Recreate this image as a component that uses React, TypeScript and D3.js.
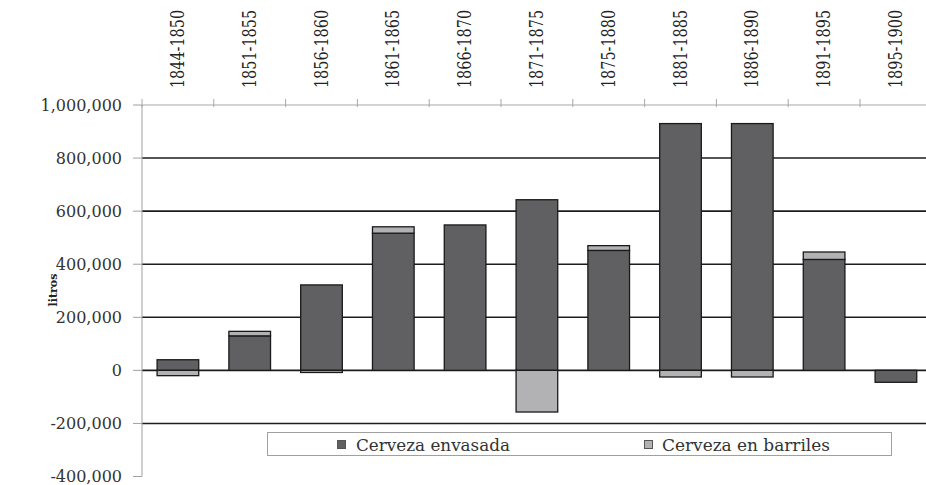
import React from "react";
import * as d3 from "d3";

const categories = ["1844-1850","1851-1855","1856-1860","1861-1865","1866-1870","1871-1875","1875-1880","1881-1885","1886-1890","1891-1895","1895-1900"];
const envasada = [40000, 130000, 322000, 517000, 548000, 643000, 452000, 930000, 930000, 418000, -45000];
const barriles = [-20000, 17000, -8000, 24000, 0, -157000, 18000, -25000, -25000, 28000, 0];
const seriesNames = ["Cerveza envasada", "Cerveza en barriles"];
const yTicks = [1000000, 800000, 600000, 400000, 200000, 0, -200000, -400000];
const gridValues = [800000, 600000, 400000, 200000, 0, -200000];

const W = 926, H = 485;
const colors = ["#606062", "#b2b2b4"];

export default function App() {
  const step = 71.8;
  const x = d3.scaleBand<string>().domain(categories).range([142, 142 + step * categories.length]).paddingInner(0.42).paddingOuter(0.21);
  const y = d3.scaleLinear().domain([-400000, 1000000]).range([476.5, 105]);
  const rows = categories.map((c, i) => ({ cat: c, a: envasada[i], b: barriles[i] }));
  const stacked = d3.stack<any>().keys(["a", "b"]).offset(d3.stackOffsetDiverging)(rows);
  const fmt = (v: number) => d3.format(",")(v).replace("\u2212", "-");
  const serif = "'DejaVu Serif', 'Liberation Serif', serif";
  const boundaries = d3.range(categories.length + 1).map(i => 142 + i * x.step());

  return (
    <svg width={W} height={H} style={{ position: "absolute", left: 0, top: 0, background: "#fff", fontFamily: serif }}>
      {/* category labels on top */}
      {categories.map(c => (
        <text key={c} transform={`translate(${(x(c) as number) + x.bandwidth() / 2},49) rotate(-90) scale(0.8,1)`} textAnchor="middle" dominantBaseline="central" fontSize={18} fill="#222" style={{ fontFamily: serif }}>{c}</text>
      ))}
      {/* top line with ticks */}
      <line x1={142} x2={W} y1={y(1000000)} y2={y(1000000)} stroke="#a8a8a8" strokeWidth={1} />
      {boundaries.map((bx, i) => (
        <line key={i} x1={bx} x2={bx} y1={y(1000000) - 6} y2={y(1000000) + 2} stroke="#a8a8a8" strokeWidth={1} />
      ))}
      {/* gridlines */}
      {gridValues.map(v => (
        <line key={v} x1={142} x2={W} y1={y(v)} y2={y(v)} stroke="#1c1c1c" strokeWidth={1.6} />
      ))}
      {/* y axis */}
      <line x1={142} x2={142} y1={y(1000000)} y2={y(-400000)} stroke="#a0a0a0" strokeWidth={1} />
      {yTicks.map(v => (
        <g key={v}>
          <line x1={133} x2={142} y1={y(v)} y2={y(v)} stroke="#a0a0a0" strokeWidth={1} />
          <text x={122} y={y(v)} textAnchor="end" dominantBaseline="central" fontSize={16} fill="#333" style={{ fontFamily: serif }}>{fmt(v)}</text>
        </g>
      ))}
      <text transform="translate(53,290) rotate(-90)" textAnchor="middle" dominantBaseline="central" fontSize={11} fontWeight="bold" fill="#222" style={{ fontFamily: serif }}>litros</text>
      {/* bars */}
      {stacked.map((s, si) => (
        <g key={si} fill={colors[si]}>
          {s.map((d: any, i: number) => {
            const y0 = y(d[0]), y1 = y(d[1]);
            const h = Math.abs(y0 - y1);
            if (h < 0.5) return null;
            return <rect key={i} x={x(categories[i])} y={Math.min(y0, y1)} width={x.bandwidth()} height={h} stroke="#1a1a1a" strokeWidth={1.3} />;
          })}
        </g>
      ))}
      {/* legend */}
      <rect x={267.5} y={432.5} width={624} height={23} fill="#fff" stroke="#a0a0a0" strokeWidth={1} />
      <rect x={337.5} y={440.5} width={8} height={8} fill={colors[0]} stroke="#555" strokeWidth={1} />
      <text x={356} y={451} fontSize={16} fill="#333" textLength={154} lengthAdjust="spacingAndGlyphs" style={{ fontFamily: serif }}>{seriesNames[0]}</text>
      <rect x={644.5} y={440.5} width={8} height={8} fill={colors[1]} stroke="#555" strokeWidth={1} />
      <text x={662} y={451} fontSize={16} fill="#333" textLength={168} lengthAdjust="spacingAndGlyphs" style={{ fontFamily: serif }}>{seriesNames[1]}</text>
    </svg>
  );
}
